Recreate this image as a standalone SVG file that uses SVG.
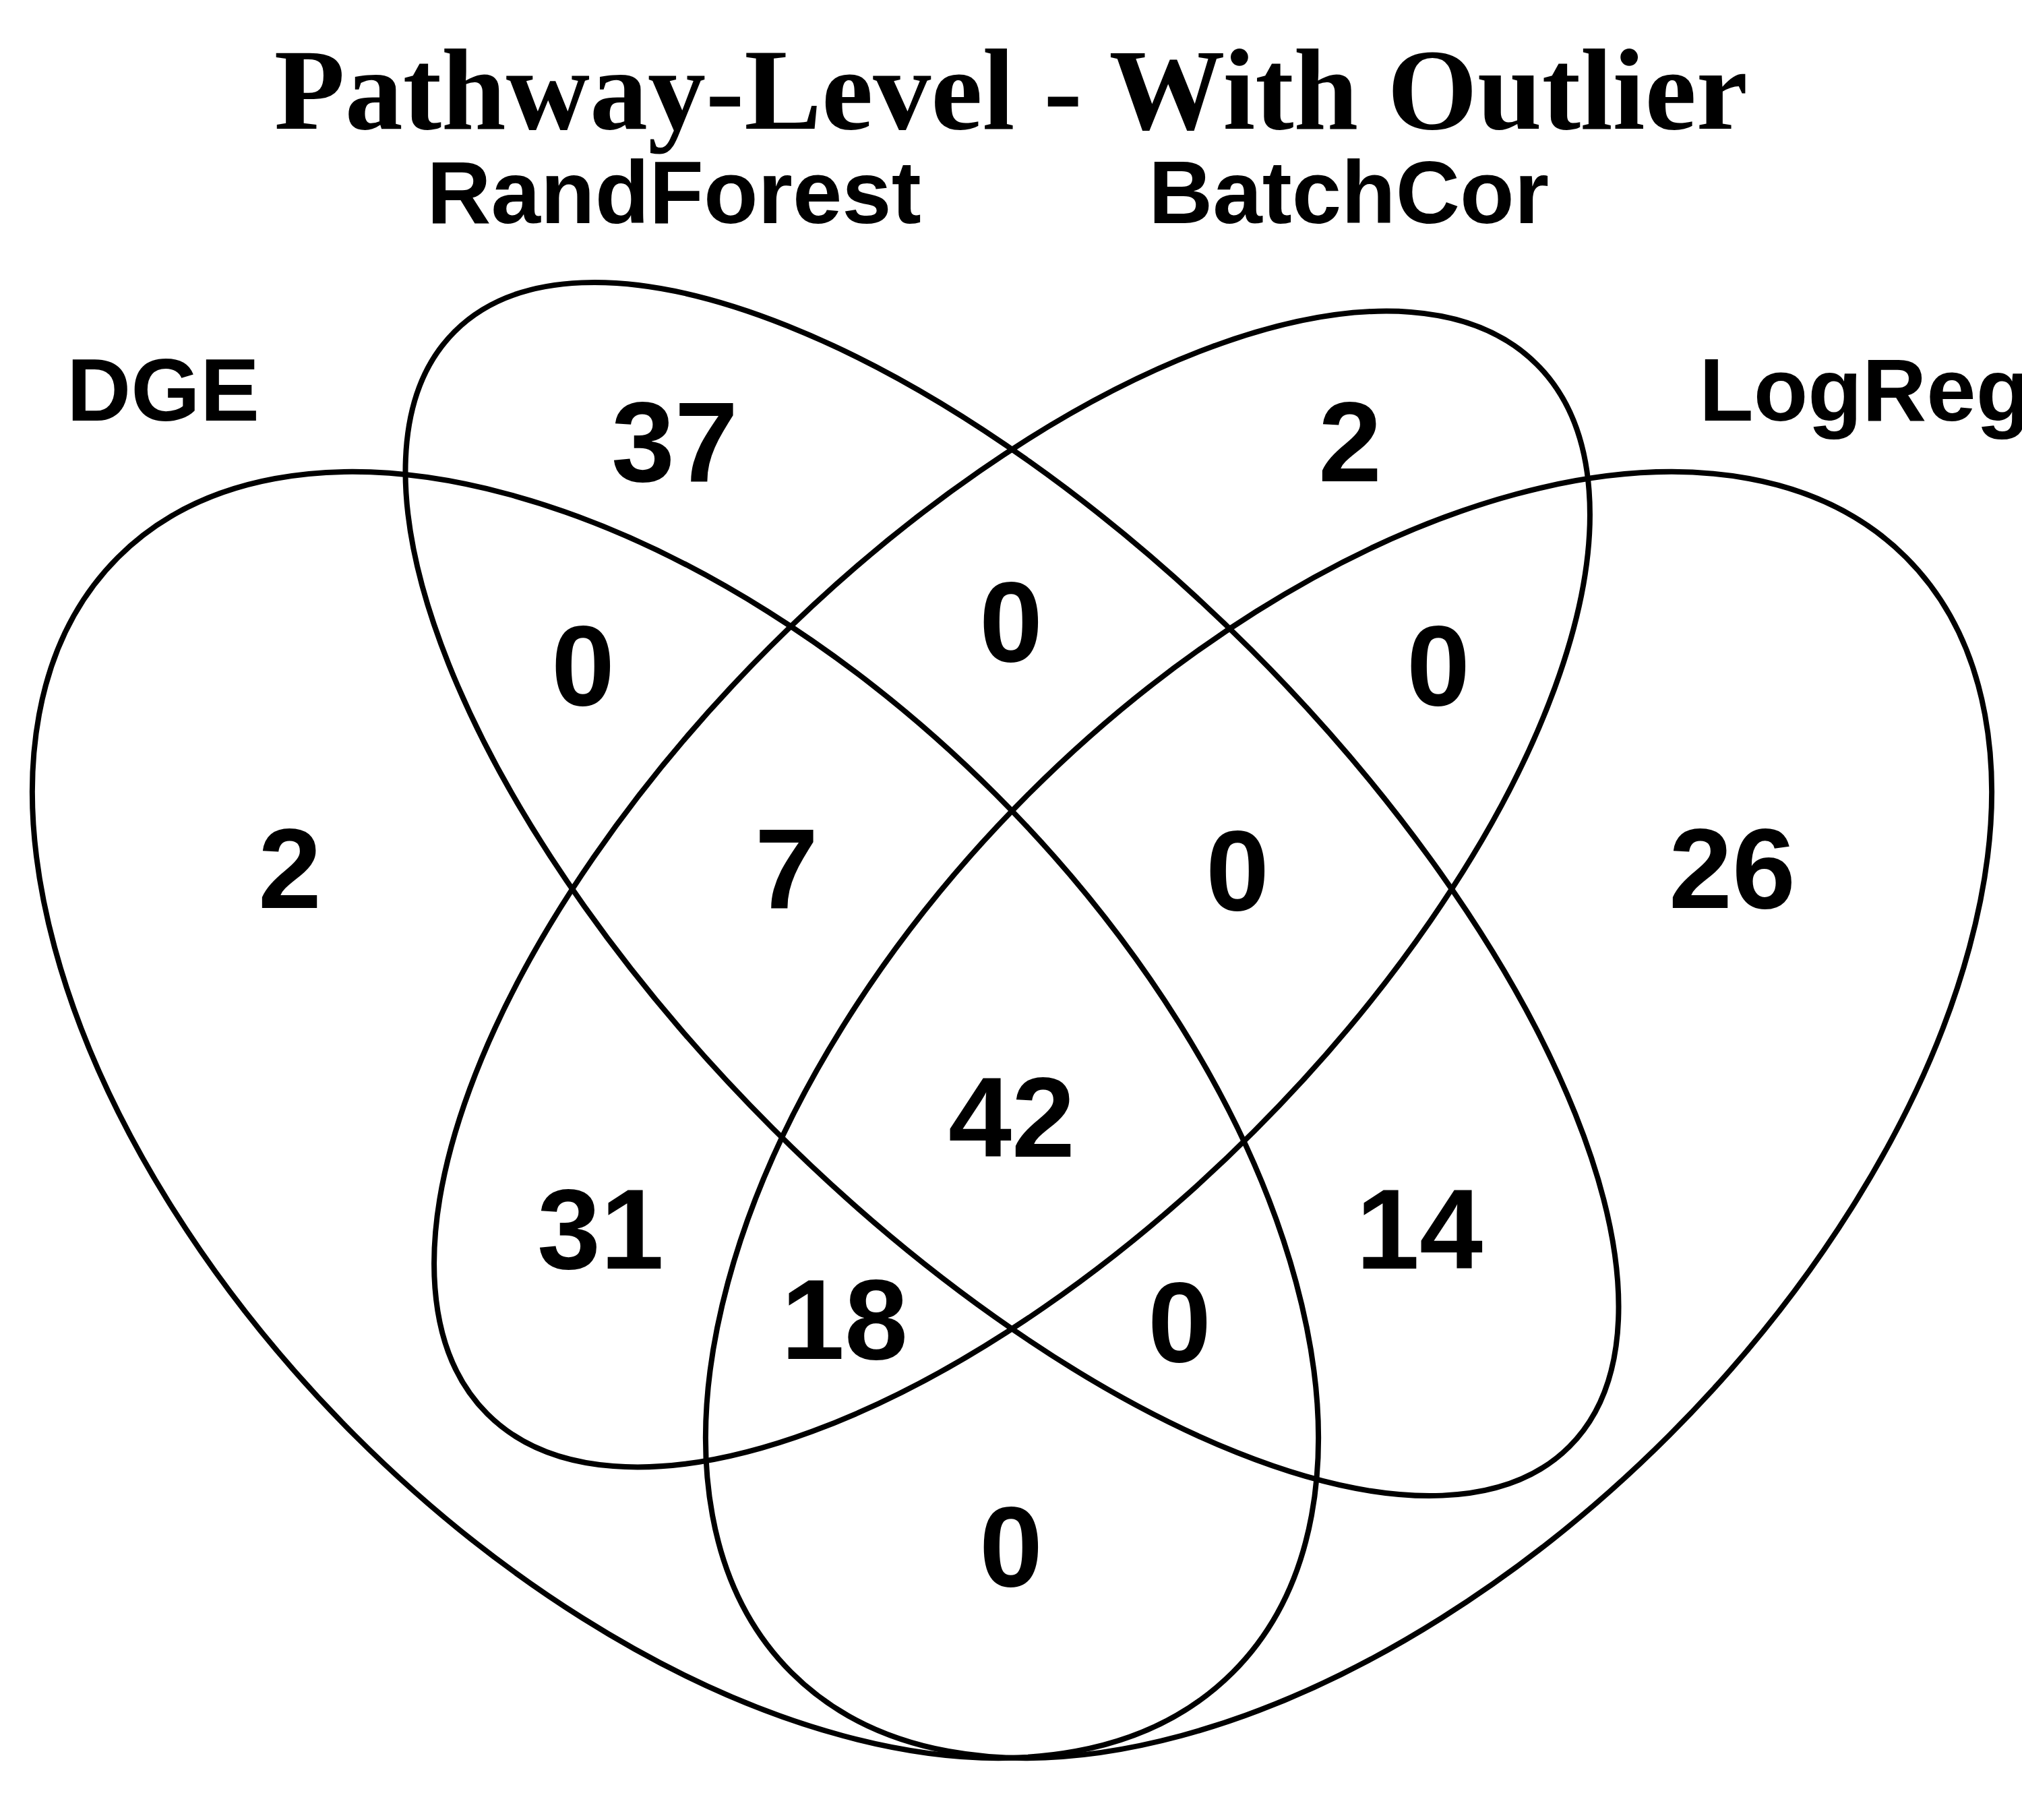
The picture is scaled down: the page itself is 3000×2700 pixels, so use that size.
<svg xmlns="http://www.w3.org/2000/svg" width="3000" height="2700" viewBox="0 0 3000 2700">
<style>
.set{fill:none;stroke:#000;stroke-width:8}
.num{font-family:"Liberation Sans",Arial,sans-serif;font-weight:bold;font-size:169px;text-anchor:middle;fill:#000}
.cat{font-family:"Liberation Sans",Arial,sans-serif;font-weight:bold;font-size:132px;fill:#000}
.title{font-family:"Liberation Serif","Times New Roman",serif;font-weight:bold;font-size:172px;text-anchor:middle;fill:#000}
</style>
<rect width="3000" height="2700" fill="#fff"/>
<g id="sets">
<g id="set-DGE"><ellipse class="set" cx="1002" cy="1654" rx="1169.6" ry="672.4" transform="rotate(45 1002 1654)"/></g>
<g id="set-RandForest"><ellipse class="set" cx="1501.5" cy="1319" rx="1169.6" ry="502" transform="rotate(45 1501.5 1319)"/></g>
<g id="set-BatchCor"><ellipse class="set" cx="1501.5" cy="1319" rx="1101" ry="508" transform="rotate(-45 1501.5 1319)"/></g>
<g id="set-LogReg"><ellipse class="set" cx="2001" cy="1654" rx="1169.6" ry="672.4" transform="rotate(-45 2001 1654)"/></g>
</g>
<g id="title"><text class="title" x="1500" y="191">Pathway-Level - With Outlier</text></g>
<g id="labels">
<text class="cat" x="1000" y="331" text-anchor="middle">RandForest</text>
<text class="cat" x="2001" y="331" text-anchor="middle">BatchCor</text>
<text class="cat" x="242" y="624" text-anchor="middle">DGE</text>
<text class="cat" x="2521" y="624">LogReg</text>
</g>
<g id="counts">
<text class="num" x="1001" y="714">37</text>
<text class="num" x="2003" y="714">2</text>
<text class="num" x="865" y="1046">0</text>
<text class="num" x="1500" y="981">0</text>
<text class="num" x="2134" y="1046">0</text>
<text class="num" x="430" y="1347">2</text>
<text class="num" x="1167" y="1347">7</text>
<text class="num" x="1836" y="1350">0</text>
<text class="num" x="2570" y="1347">26</text>
<text class="num" x="1501" y="1716">42</text>
<text class="num" x="891" y="1882">31</text>
<text class="num" x="2106" y="1882">14</text>
<text class="num" x="1253" y="2016">18</text>
<text class="num" x="1750" y="2020">0</text>
<text class="num" x="1500" y="2353">0</text>
</g>
</svg>
